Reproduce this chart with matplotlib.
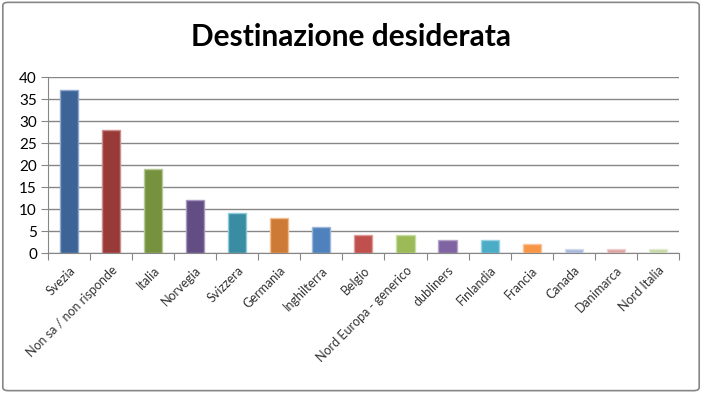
import matplotlib.pyplot as plt
from matplotlib.patches import FancyBboxPatch

categories = ["Svezia", "Non sa / non risponde", "Italia", "Norvegia", "Svizzera",
              "Germania", "Inghilterra", "Belgio", "Nord Europa - generico",
              "dubliners", "Finlandia", "Francia", "Canada", "Danimarca", "Nord Italia"]
values = [37, 28, 19, 12, 9, 8, 6, 4, 4, 3, 3, 2, 1, 1, 1]
colors = ["#3C6496", "#983B38", "#77923F", "#634E83", "#3A8CA2", "#CC7A35",
          "#4F81BD", "#C0504D", "#9BBB59", "#8064A2", "#4BACC6", "#F79646",
          "#A7B9DA", "#DBA5A4", "#C6D8A7"]
edges = ["#8FA8CC", "#CC8E8C", "#B5C996", "#A796BF", "#8CCBDA", "#F5BE8F",
         "#9CB7DA", "#DE9A98", "#C8DCA3", "#B3A4C9", "#98D2E2", "#FAC39A",
         "#D2DCEC", "#EDD2D1", "#E2EBD3"]

plt.rcParams['font.family'] = ['Lato', 'DejaVu Sans']

fig = plt.figure(figsize=(7.02, 3.93), dpi=100)
ax = fig.add_axes([0.0684, 0.356, 0.8986, 0.448])

x = range(len(categories))
ax.bar(x, values, width=0.43, color=colors, edgecolor=edges, linewidth=1, zorder=3)

ax.set_xlim(-0.5, len(categories) - 0.5)
ax.set_ylim(0, 40)
ax.set_yticks(range(0, 41, 5))
ax.grid(axis='y', color='#868686', linewidth=1, zorder=0)

ax.set_xticks([i - 0.5 for i in range(len(categories) + 1)])
ax.set_xticklabels([])
ax.set_xticks(list(x), minor=True)
ax.set_xticklabels(categories, minor=True, rotation=45, ha='right', va='top',
                   rotation_mode='anchor', fontsize=9, color='#333333')
ax.tick_params(axis='x', which='minor', length=0, pad=8)
ax.tick_params(axis='x', which='major', length=5, color='#868686', direction='out')
ax.tick_params(axis='y', length=5, color='#868686', labelsize=11, pad=3)

for s in ['top', 'right']:
    ax.spines[s].set_visible(False)
for s in ['left', 'bottom']:
    ax.spines[s].set_color('#868686')

fig.text(0.5, 0.905, "Destinazione desiderata", ha='center', va='center',
         fontsize=21.5, fontweight='bold')

frame = FancyBboxPatch((0.004, 0.006), 0.992, 0.988, boxstyle="round,pad=0,rounding_size=0.008",
                       transform=fig.transFigure, fill=False, edgecolor='#868686', linewidth=1.2)
fig.patches.append(frame)

fig.savefig("out.png", dpi=100)
